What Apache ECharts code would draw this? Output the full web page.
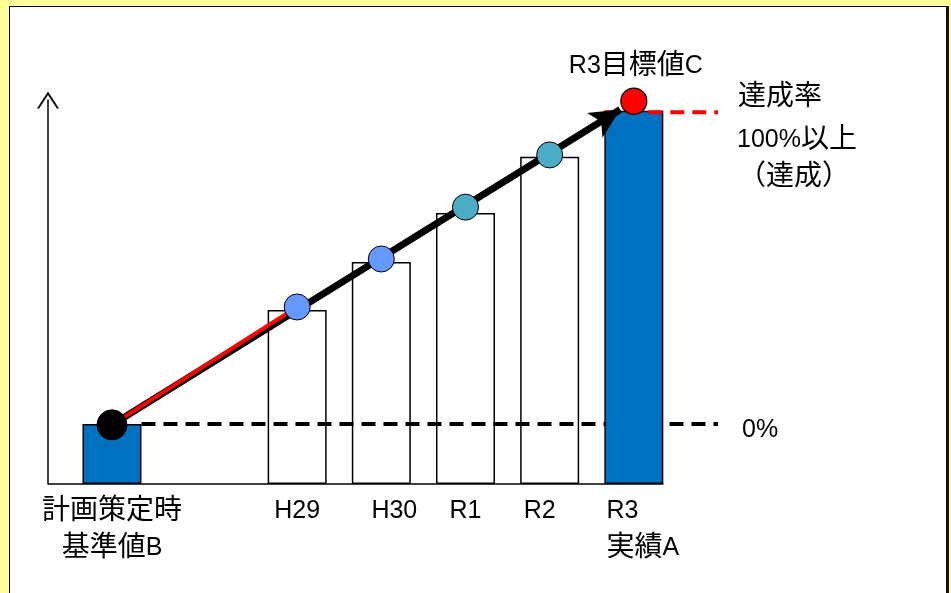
<!DOCTYPE html>
<html><head><meta charset="utf-8">
<script src="https://cdn.jsdelivr.net/npm/echarts@6/dist/echarts.min.js"></script>
<style>
html,body{margin:0;padding:0;background:#FFFF99;width:951px;height:593px;overflow:hidden;}
#frame{position:absolute;left:9px;top:6px;width:936px;height:620px;background:#fff;border:1px solid #000;border-right:3px solid #111;}
#chart{position:absolute;left:0;top:0;width:951px;height:593px;}
</style></head><body>
<div id="frame"></div><div id="chart"></div>
<script>
// ---- data ----
const categories = ['計画策定時\n基準値B', 'H29', 'H30', 'R1', 'R2', 'R3\n実績A'];
const xPos = [0.8, 3, 4, 5, 6, 7];                       // order positions on the x scale
const barValues = [15.6, 45.3, 57.8, 70.6, 85.2, 97.2];  // bar heights
const pointValues = [15.4, 46.1, 58.6, 72.1, 85.7];      // B, H29, H30, R1, R2 markers
const targetC = 99.7;                                     // R3目標値C
const base0 = 15.6;                                       // 0% line
const target100 = 96.8;                                   // 100% line
const targetLabel = 'R3目標値C';
const noteTexts = ['達成率', '100%以上', '（達成）', '0%'];

// ---- layout/style ----
const FONT = '"Liberation Sans", "Noto Sans CJK JP", sans-serif';
const FS_E = 25, FS_J = 28;
const GRID = {left: 48, top: 100, width: 670, bottom: 109};
const X_MIN = 0.04, X_MAX = 8.0;
const BAR_W = 59;
const ARROW_PULL = 0.026;
const halfBar = (BAR_W / 2) * (X_MAX - X_MIN) / GRID.width;
const labelVariant = ['', '', 'r', '', 'l', 'a'];
const dotColors = ['#000000', '#6699FF', '#6699FF', '#4BACC6', '#4BACC6'];
const dotSizes = [30, 26, 26, 26, 26];

const CJK = /([\u3000-\u30ff\u3400-\u9fff\uff00-\uffef]+)/;
function toRich(line, variant) {
  return line.split(CJK).filter(s => s.length).map((s, k) => {
    const base = CJK.test(s) ? 'j' : 'e';
    let v = variant;
    if (k > 0) v = (variant === 'a') ? 'a0' : '';
    return '{' + base + v + '|' + s + '}';
  }).join('');
}
function makeRich(lh) {
  const r = {};
  [['j', FS_J], ['e', FS_E]].forEach(([b, fs]) => {
    const s = {fontSize: fs, fontFamily: FONT, color: '#000', lineHeight: lh};
    r[b] = Object.assign({}, s);
    r[b + 'r'] = Object.assign({}, s, {padding: [0, 0, 0, 26]});
    r[b + 'l'] = Object.assign({}, s, {padding: [0, 20, 0, 0]});
    r[b + 'a'] = Object.assign({}, s, {align: 'left', padding: [0, 0, 0, 18]});
    r[b + 'a0'] = Object.assign({}, s, {align: 'left'});
  });
  return r;
}
const RICH = makeRich(37);

const chart = echarts.init(document.getElementById('chart'), null, {renderer: 'canvas'});
const blueIdx = [0, 5], whiteIdx = [1, 2, 3, 4];
const arrowEnd = [xPos[5] - ARROW_PULL * (xPos[5] - xPos[0]), targetC - ARROW_PULL * (targetC - pointValues[0])];

const option = {
  animation: false,
  backgroundColor: 'transparent',
  textStyle: {fontFamily: FONT},
  grid: GRID,
  xAxis: {
    type: 'value', min: X_MIN, max: X_MAX,
    axisLine: {show: false},
    axisTick: {show: false},
    splitLine: {show: false},
    axisLabel: {
      customValues: xPos,
      margin: 9,
      color: '#000',
      fontSize: FS_E,
      fontFamily: FONT,
      lineHeight: 37,
      formatter: function (v) {
        let i = 0, best = 1e9;
        xPos.forEach((p, k) => { if (Math.abs(p - v) < best) { best = Math.abs(p - v); i = k; } });
        return categories[i].split('\n').map(t => toRich(t, labelVariant[i])).join('\n');
      },
      rich: RICH
    }
  },
  yAxis: {
    type: 'value', min: 0, max: 100,
    axisLine: {
      show: true,
      lineStyle: {color: '#000', width: 1.5},
      symbol: ['none', 'path://M0,17 L11,0 L22,17 L19.8,17 L11,3.4 L2.2,17 Z'],
      symbolSize: [22, 17]
    },
    axisTick: {show: false},
    axisLabel: {show: false},
    splitLine: {show: false}
  },
  series: [
    { // baseline
      type: 'line', z: 1, clip: false, silent: true, symbol: 'none',
      data: [[X_MIN, 0], [xPos[5] + halfBar, 0]],
      lineStyle: {color: '#000', width: 1.5}
    },
    { // white bars
      type: 'bar', z: 2, barWidth: BAR_W, barGap: '-100%', silent: true,
      data: whiteIdx.map(i => [xPos[i], barValues[i]]),
      itemStyle: {color: '#fff', borderColor: '#000', borderWidth: 1.5}
    },
    { // 0% dashed line
      type: 'line', z: 3, clip: false, silent: true, symbol: 'none',
      data: [[xPos[0] + halfBar, base0], [X_MAX, base0]],
      lineStyle: {color: '#000', width: 4, type: [14, 8]}
    },
    { // blue bars
      type: 'bar', z: 4, barWidth: BAR_W, barGap: '-100%', silent: true,
      data: blueIdx.map(i => [xPos[i], barValues[i]]),
      itemStyle: {color: '#0070C0', borderColor: '#000', borderWidth: 1.5}
    },
    { // 100% dashed line
      type: 'line', z: 5, clip: false, silent: true, symbol: 'none',
      data: [[xPos[5] - halfBar, target100], [X_MAX, target100]],
      lineStyle: {color: '#FF0000', width: 4, type: [14, 8]}
    },
    { // red first segment
      type: 'line', z: 9, clip: false, silent: true, symbol: 'none',
      data: [[xPos[0], pointValues[0]], [xPos[1], pointValues[1]]],
      lineStyle: {color: '#FF0000', width: 4}
    },
    { // markers
      type: 'scatter', z: 10, silent: true,
      data: pointValues.map((v, i) => ({
        value: [xPos[i], v],
        symbolSize: dotSizes[i],
        itemStyle: {color: dotColors[i], borderColor: '#000', borderWidth: 1, opacity: 1}
      })).concat([{
        value: [xPos[5], targetC],
        symbolSize: 26,
        itemStyle: {color: '#FF0000', borderColor: '#000', borderWidth: 1.2, opacity: 1},
        label: {show: true, position: 'top', distance: 6, offset: [2, 0],
          formatter: toRich(targetLabel, ''), rich: makeRich(30)}
      }]),
      markLine: {
        silent: true, z: 8, animation: false,
        symbol: ['none', 'arrow'], symbolSize: [22, 30],
        label: {show: false},
        lineStyle: {color: '#000', width: 7, type: 'solid'},
        data: [[{coord: [xPos[0], pointValues[0]]}, {coord: arrowEnd}]]
      }
    }
  ],
  graphic: noteTexts.map((t, i) => ({
    type: 'text', z: 20,
    x: [738, 737, 738, 742][i], y: [97, 140, 177, 430][i],
    style: {text: toRich(t, ''), rich: makeRich(30), verticalAlign: 'middle', fill: '#000'}
  }))
};
chart.setOption(option);
</script>
</body></html>
